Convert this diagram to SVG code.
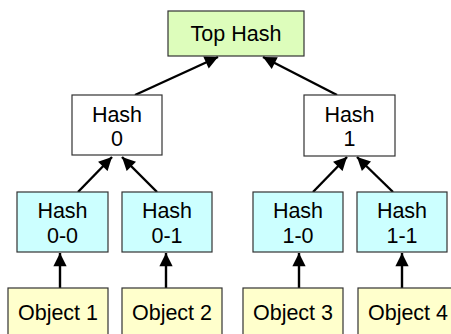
<svg xmlns="http://www.w3.org/2000/svg" width="451" height="334" viewBox="0 0 451 334">
  <style>
    .box { stroke: #333; stroke-width: 1.2; }
    .top { fill: #ddfdbb; }
    .mid { fill: #ffffff; }
    .leaf { fill: #ccffff; }
    .obj { fill: #ffffcc; }
    text { font-family: "Liberation Sans", Arial, sans-serif; font-size: 21.5px; fill: #000; text-anchor: middle; }
    .edge { stroke: #000; stroke-width: 2.4; fill: none; marker-end: url(#arrow); }
  </style>
  <defs>
    <marker id="arrow" viewBox="0 0 10 10" refX="10" refY="5" markerWidth="6" markerHeight="5.5" orient="auto" markerUnits="strokeWidth">
      <path d="M0,0 L10,5 L0,10 z" fill="#000"/>
    </marker>
  </defs>
  <rect width="451" height="334" fill="#fff"/>

  <g id="connectors">
    <line class="edge" x1="135" y1="95" x2="218" y2="57"/>
    <line class="edge" x1="337" y1="95" x2="263" y2="57"/>
    <line class="edge" x1="78" y1="192" x2="112" y2="157"/>
    <line class="edge" x1="157" y1="192" x2="122" y2="157"/>
    <line class="edge" x1="313" y1="192" x2="347" y2="157"/>
    <line class="edge" x1="393" y1="192" x2="357" y2="157"/>
    <line class="edge" x1="60" y1="288" x2="60" y2="253"/>
    <line class="edge" x1="166" y1="288" x2="166" y2="253"/>
    <line class="edge" x1="299" y1="288" x2="299" y2="253"/>
    <line class="edge" x1="402" y1="288" x2="402" y2="253"/>
  </g>

  <g id="top-hash">
    <rect class="box top" x="168" y="11" width="136" height="45"/>
    <text x="236" y="41">Top Hash</text>
  </g>
  <g id="hash-0">
    <rect class="box mid" x="72" y="95" width="90" height="60"/>
    <text x="117" y="122">Hash</text>
    <text x="117" y="146">0</text>
  </g>
  <g id="hash-1">
    <rect class="box mid" x="304" y="95" width="91" height="61"/>
    <text x="349.5" y="122">Hash</text>
    <text x="349.5" y="146">1</text>
  </g>
  <g id="hash-0-0">
    <rect class="box leaf" x="17" y="192" width="91" height="60"/>
    <text x="62.5" y="218">Hash</text>
    <text x="62.5" y="243">0-0</text>
  </g>
  <g id="hash-0-1">
    <rect class="box leaf" x="122" y="192" width="90" height="60"/>
    <text x="167" y="218">Hash</text>
    <text x="167" y="243">0-1</text>
  </g>
  <g id="hash-1-0">
    <rect class="box leaf" x="253" y="192" width="90" height="60"/>
    <text x="298" y="218">Hash</text>
    <text x="298" y="243">1-0</text>
  </g>
  <g id="hash-1-1">
    <rect class="box leaf" x="357" y="192" width="90" height="60"/>
    <text x="402" y="218">Hash</text>
    <text x="402" y="243">1-1</text>
  </g>
  <g id="object-1">
    <rect class="box obj" x="8" y="288" width="100" height="60"/>
    <text x="58" y="320">Object 1</text>
  </g>
  <g id="object-2">
    <rect class="box obj" x="122" y="288" width="100" height="60"/>
    <text x="172" y="320">Object 2</text>
  </g>
  <g id="object-3">
    <rect class="box obj" x="243" y="288" width="100" height="60"/>
    <text x="293" y="320">Object 3</text>
  </g>
  <g id="object-4">
    <rect class="box obj" x="358" y="288" width="100" height="60"/>
    <text x="408" y="320">Object 4</text>
  </g>
</svg>
